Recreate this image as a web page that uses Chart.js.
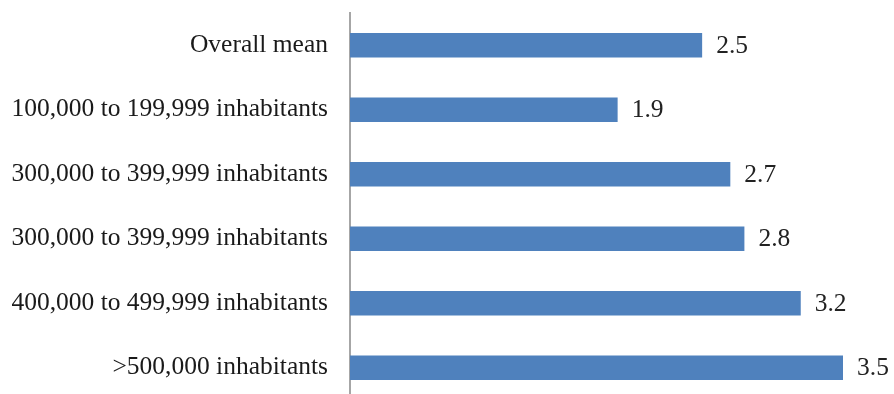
<!DOCTYPE html>
<html>
<head>
<meta charset="utf-8">
<script src="https://cdn.jsdelivr.net/npm/chart.js@4"></script>
<style>
  html, body { margin: 0; padding: 0; background: #fff; overflow: hidden; }
  #wrap { width: 894px; height: 400px; }
</style>
</head>
<body>
<div id="wrap"><canvas id="chart-canva" width="894" height="400"></canvas></div>
<script>
const categories = [
  'Overall mean',
  '100,000 to 199,999 inhabitants',
  '300,000 to 399,999 inhabitants',
  '300,000 to 399,999 inhabitants',
  '400,000 to 499,999 inhabitants',
  '>500,000 inhabitants'
];
const values = [2.5, 1.9, 2.7, 2.8, 3.2, 3.5];

const serif = "'Liberation Serif', 'Times New Roman', serif";

// draws the number to the right of each bar
const valueLabels = {
  id: 'valueLabels',
  afterDatasetsDraw(chart) {
    const ctx = chart.ctx;
    const meta = chart.getDatasetMeta(0);
    ctx.save();
    ctx.font = '25.5px ' + serif;
    ctx.fillStyle = '#222';
    ctx.textAlign = 'left';
    ctx.textBaseline = 'middle';
    meta.data.forEach((bar, i) => {
      ctx.fillText(values[i].toFixed(1), bar.x + 14, bar.y + 1);
    });
    ctx.restore();
  }
};

const data = {
  labels: categories,
  datasets: [
    {
      data: values,
      backgroundColor: '#4f81bd',
      borderWidth: 0,
      barPercentage: 0.38,
      categoryPercentage: 1
    }
  ]
};

const config = {
  type: 'bar',
  data: data,
  plugins: [valueLabels],
  options: {
    indexAxis: 'y',
    responsive: false,
    animation: false,
    layout: {
      padding: { top: 13, right: 51, bottom: 0, left: 0 }
    },
    plugins: {
      legend: { display: false },
      tooltip: { enabled: false }
    },
    scales: {
      x: {
        display: false,
        min: 0,
        max: 3.5
      },
      y: {
        afterFit(scale) {
          scale.width = 350;
          scale.paddingTop = 0;
          scale.paddingBottom = 0;
        },
        grid: { display: false, drawTicks: false },
        border: { display: true, color: '#a6a6a6', width: 2 },
        ticks: {
          padding: 22,
          color: '#1a1a1a',
          font: { family: serif, size: 25.5 }
        }
      }
    }
  }
};

let chart = new Chart(document.getElementById('chart-canva'), config);
</script>
</body>
</html>
